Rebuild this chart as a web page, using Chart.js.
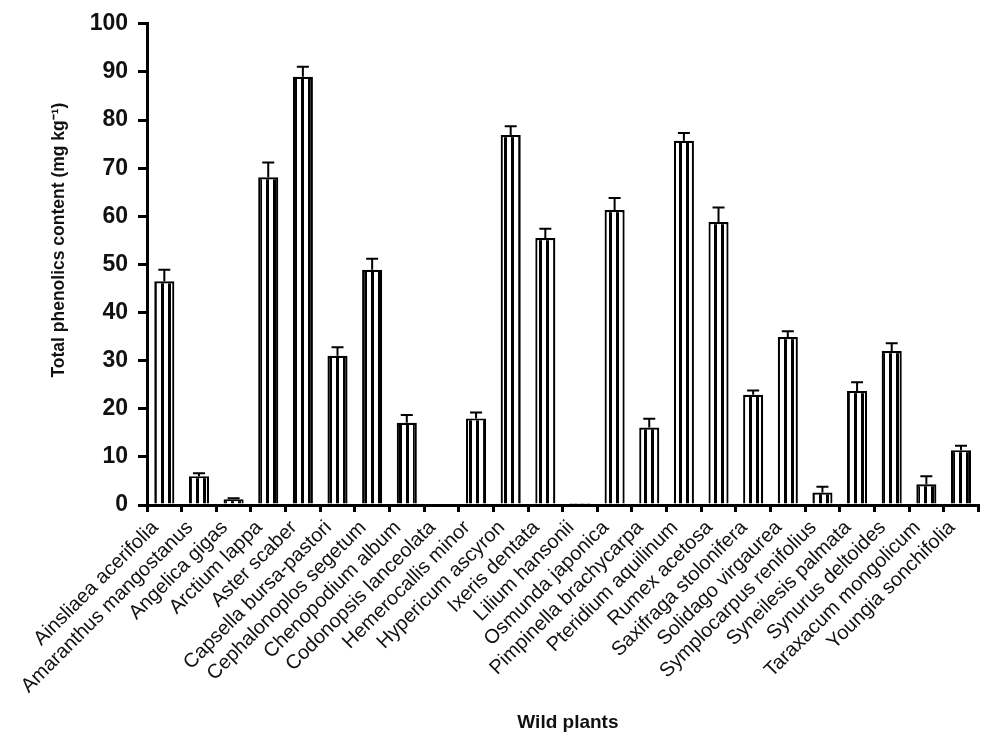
<!DOCTYPE html>
<html>
<head>
<meta charset="utf-8">
<script src="https://cdn.jsdelivr.net/npm/chart.js@4/dist/chart.umd.min.js"></script>
<style>
  html, body { margin: 0; padding: 0; background: #fff; }
  #wrap { width: 982px; height: 734px; }
</style>
</head>
<body>
<div id="wrap"><canvas id="myChart" width="982" height="734"></canvas></div>
<script>
const plants = [
  "Ainsliaea acerifolia", "Amaranthus mangostanus", "Angelica gigas", "Arctium lappa",
  "Aster scaber", "Capsella bursa-pastori", "Cephalonoplos segetum", "Chenopodium album",
  "Codonopsis lanceolata", "Hemerocallis minor", "Hypericum ascyron", "Ixeris dentata",
  "Lilium hansonii", "Osmunda japonica", "Pimpinella brachycarpa", "Pteridium aquilinum",
  "Rumex acetosa", "Saxifraga stolonifera", "Solidago virgaurea", "Symplocarpus renifolius",
  "Syneilesis palmata", "Synurus deltoides", "Taraxacum mongolicum", "Youngia sonchifolia",
];
const phenolics = [
  46.5, 6.0, 1.2, 68.1, 89.0, 31.0, 48.9, 17.1, 0.3, 18.0, 76.9, 55.5,
  0.2, 61.3, 16.1, 75.7, 58.8, 22.9, 34.9, 2.6, 23.7, 32.0, 4.3, 11.4,
];
const errors = [
  2.4, 0.6, 0.2, 3.1, 2.1, 1.8, 2.3, 1.6, 0, 1.2, 1.8, 1.9,
  0, 2.5, 1.8, 1.6, 3.0, 0.9, 1.2, 1.2, 1.8, 1.6, 1.7, 0.9,
];
const yTicks = [0, 10, 20, 30, 40, 50, 60, 70, 80, 90, 100];

function stripePattern() {
  const c = document.createElement("canvas");
  c.width = 7;
  c.height = 1;
  const g = c.getContext("2d");
  g.fillStyle = "#fff";
  g.fillRect(0, 0, 7, 1);
  g.fillStyle = "#000";
  g.fillRect(0, 0, 3, 1);
  return g.createPattern(c, "repeat");
}

// upper error bars with a cap
const errorBars = {
  id: "errorBars",
  afterDatasetsDraw(chart) {
    const ctx = chart.ctx;
    const y = chart.scales.y;
    const meta = chart.getDatasetMeta(0);
    ctx.save();
    ctx.strokeStyle = "#000";
    ctx.lineWidth = 2;
    meta.data.forEach((bar, i) => {
      if (!errors[i]) return;
      const top = y.getPixelForValue(phenolics[i] + errors[i]);
      const base = y.getPixelForValue(phenolics[i]);
      ctx.beginPath();
      ctx.moveTo(bar.x, base);
      ctx.lineTo(bar.x, top);
      ctx.moveTo(bar.x - 6, top);
      ctx.lineTo(bar.x + 6, top);
      ctx.stroke();
    });
    ctx.restore();
  },
};

window.onload = function () {
  const ctx = document.getElementById("myChart");
  new Chart(ctx, {
    type: "bar",
    data: {
      labels: plants,
      datasets: [
        {
          data: phenolics,
          backgroundColor: stripePattern(),
          borderColor: "#000",
          borderWidth: 2.2,
          barPercentage: 0.58,
          categoryPercentage: 1,
        },
      ],
    },
    plugins: [errorBars],
    options: {
      responsive: false,
      animation: false,
      layout: { padding: { top: 21, right: 2, left: 0, bottom: 0 } },
      plugins: {
        legend: { display: false },
        tooltip: { enabled: false },
      },
      scales: {
        x: {
          afterFit(scale) {
            scale.height = 229;
          },
          border: { display: true, color: "#000", width: 3 },
          grid: {
            offset: true,
            drawOnChartArea: false,
            drawTicks: true,
            tickLength: 7,
            color: "#000",
            lineWidth: 3,
          },
          ticks: {
            autoSkip: false,
            minRotation: 45,
            maxRotation: 45,
            padding: 4,
            labelOffset: -9,
            color: "#111",
            font: { family: "'Liberation Sans', Arial, sans-serif", size: 20 },
          },
          title: {
            display: true,
            text: "  Wild plants",
            color: "#111",
            padding: { top: 0, bottom: 0 },
            font: { family: "'Liberation Sans', Arial, sans-serif", size: 19, weight: "bold" },
          },
        },
        y: {
          min: 0,
          max: 100,
          afterFit(scale) {
            scale.width = 147;
          },
          afterBuildTicks(scale) {
            scale.ticks = yTicks.map((v) => ({ value: v }));
          },
          border: { display: true, color: "#000", width: 3 },
          grid: {
            drawOnChartArea: false,
            drawTicks: true,
            tickLength: 9,
            color: "#000",
            lineWidth: 3,
          },
          ticks: {
            padding: 10,
            color: "#111",
            font: { family: "'Liberation Sans', Arial, sans-serif", size: 23, weight: "bold" },
          },
          title: {
            display: true,
            text: "          Total phenolics content (mg kg\u207B\u00B9)",
            color: "#111",
            padding: { top: 49, bottom: 0 },
            font: { family: "'Liberation Sans', Arial, sans-serif", size: 17.5, weight: "bold" },
          },
        },
      },
    },
  });
};
</script>
</body>
</html>
